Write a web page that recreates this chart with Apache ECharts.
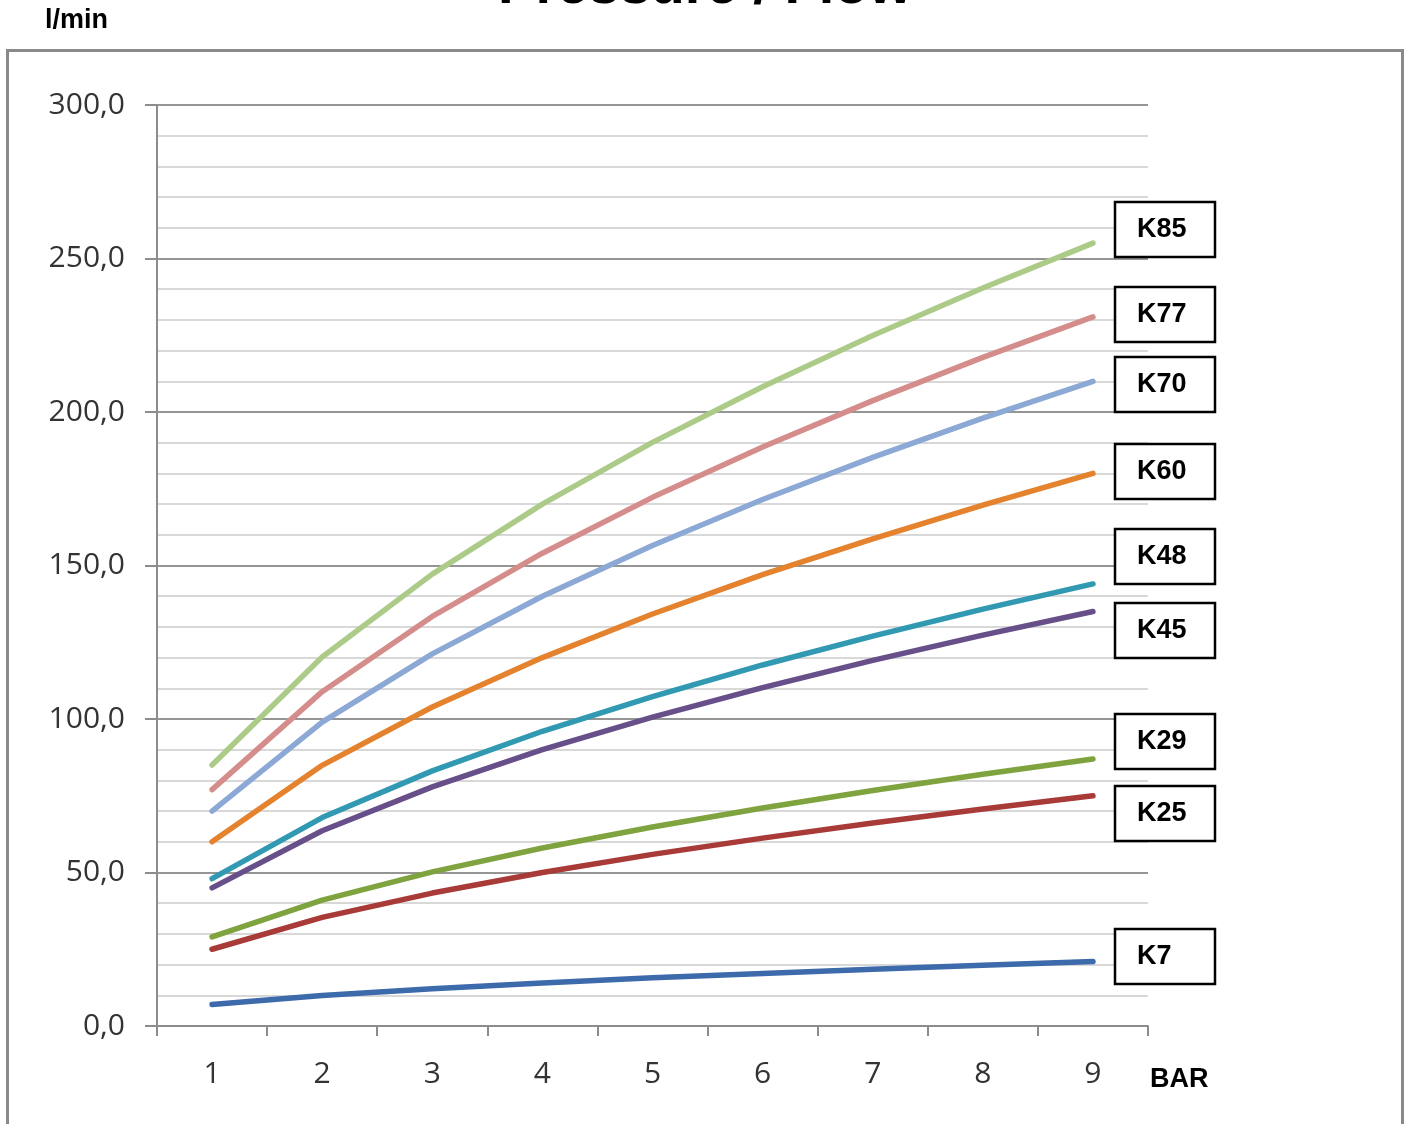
<!DOCTYPE html>
<html>
<head>
<meta charset="utf-8">
<script src="https://cdn.jsdelivr.net/npm/echarts@6/dist/echarts.min.js"></script>
<style>
html,body{margin:0;padding:0;background:#fff;}
#chart{width:1407px;height:1124px;}
</style>
</head>
<body>
<div id="chart"></div>
<script>
// ---- data ----
var pressures = ['1','2','3','4','5','6','7','8','9'];
var seriesNames = ['K7','K25','K29','K45','K48','K60','K70','K77','K85'];
var K7  = [7, 9.9, 12.1, 14, 15.7, 17.1, 18.5, 19.8, 21];
var K25 = [25, 35.4, 43.3, 50, 55.9, 61.2, 66.1, 70.7, 75];
var K29 = [29, 41, 50.2, 58, 64.8, 71, 76.7, 82, 87];
var K45 = [45, 63.6, 77.9, 90, 100.6, 110.2, 119.1, 127.3, 135];
var K48 = [48, 67.9, 83.1, 96, 107.3, 117.6, 127, 135.8, 144];
var K60 = [60, 84.9, 103.9, 120, 134.2, 147, 158.7, 169.7, 180];
var K70 = [70, 99, 121.2, 140, 156.5, 171.5, 185.2, 198, 210];
var K77 = [77, 108.9, 133.4, 154, 172.2, 188.6, 203.7, 217.8, 231];
var K85 = [85, 120.2, 147.2, 170, 190.1, 208.2, 224.9, 240.4, 255];
var seriesValues = [K7, K25, K29, K45, K48, K60, K70, K77, K85];
var yTicks = [0, 50, 100, 150, 200, 250, 300];

// ---- styles / layout ----
var colors = ['#3C6AAA','#A83A37','#7FA33E','#67508A','#3199B2','#E4822E','#8CA8D5','#D58D8B','#ADCB88'];
var boxTops = [929, 786, 714, 603, 529, 444, 357, 287, 202];

var chart = echarts.init(document.getElementById('chart'));

var series = seriesNames.map(function(n, i){
  return {
    name: n,
    type: 'line',
    data: seriesValues[i],
    symbol: 'none',
    lineStyle: {color: colors[i], width: 5.5, cap: 'round', join: 'round'},
    itemStyle: {color: colors[i]},
    z: 3 + i
  };
});

var graphics = [
  {type:'rect', shape:{x:7.5, y:50.5, width:1395, height:1120}, style:{fill:'none', stroke:'#8a8a8a', lineWidth:3}, z:0, silent:true},
  {type:'text', x:705, y:-12, style:{text:'Pressure / Flow', font:'bold 56px "Liberation Sans", Arial, sans-serif', fill:'#000', textAlign:'center', textVerticalAlign:'middle'}},
  {type:'text', x:45, y:21, style:{text:'l/min', font:'bold 27px "Liberation Sans", Arial, sans-serif', fill:'#000', textAlign:'left', textVerticalAlign:'middle'}},
  {type:'text', x:1150, y:1080, style:{text:'BAR', font:'bold 27px "Liberation Sans", Arial, sans-serif', fill:'#000', textAlign:'left', textVerticalAlign:'middle'}}
];
seriesNames.forEach(function(n, i){
  graphics.push({type:'rect', shape:{x:1115, y:boxTops[i], width:100, height:55}, style:{fill:'#fff', stroke:'#000', lineWidth:2.5}, z:10});
  graphics.push({type:'text', x:1137, y:boxTops[i]+28, style:{text:n, font:'bold 27px "Liberation Sans", Arial, sans-serif', fill:'#000', textAlign:'left', textVerticalAlign:'middle'}, z:11});
});

chart.setOption({
  animation: false,
  backgroundColor: '#fff',
  grid: {left:157, right:259, top:105, bottom:98, containLabel:false},
  xAxis: {
    type: 'category',
    data: pressures,
    boundaryGap: true,
    axisLine: {show:true, lineStyle:{color:'#8c8c8c', width:2}},
    axisTick: {show:true, length:10, inside:false, alignWithLabel:false, lineStyle:{color:'#8c8c8c', width:2}},
    axisLabel: {margin:33, fontFamily:'"Open Sans", sans-serif', fontSize:30, color:'#333333'},
    splitLine: {show:false}
  },
  yAxis: {
    type: 'value',
    min: yTicks[0],
    max: yTicks[yTicks.length-1],
    interval: 50,
    axisLine: {show:true, lineStyle:{color:'#8c8c8c', width:2}},
    axisTick: {show:true, length:12, lineStyle:{color:'#8c8c8c', width:2}},
    axisLabel: {margin:32, fontFamily:'"Open Sans", sans-serif', fontSize:30, color:'#333333',
      formatter: function(v){ return v.toFixed(1).replace('.', ','); }},
    splitLine: {show:true, lineStyle:{color:'#959595', width:2}},
    minorTick: {show:false, splitNumber:5},
    minorSplitLine: {show:true, lineStyle:{color:'#cccccc', width:1.5}}
  },
  series: series,
  graphic: graphics
});
</script>
</body>
</html>
